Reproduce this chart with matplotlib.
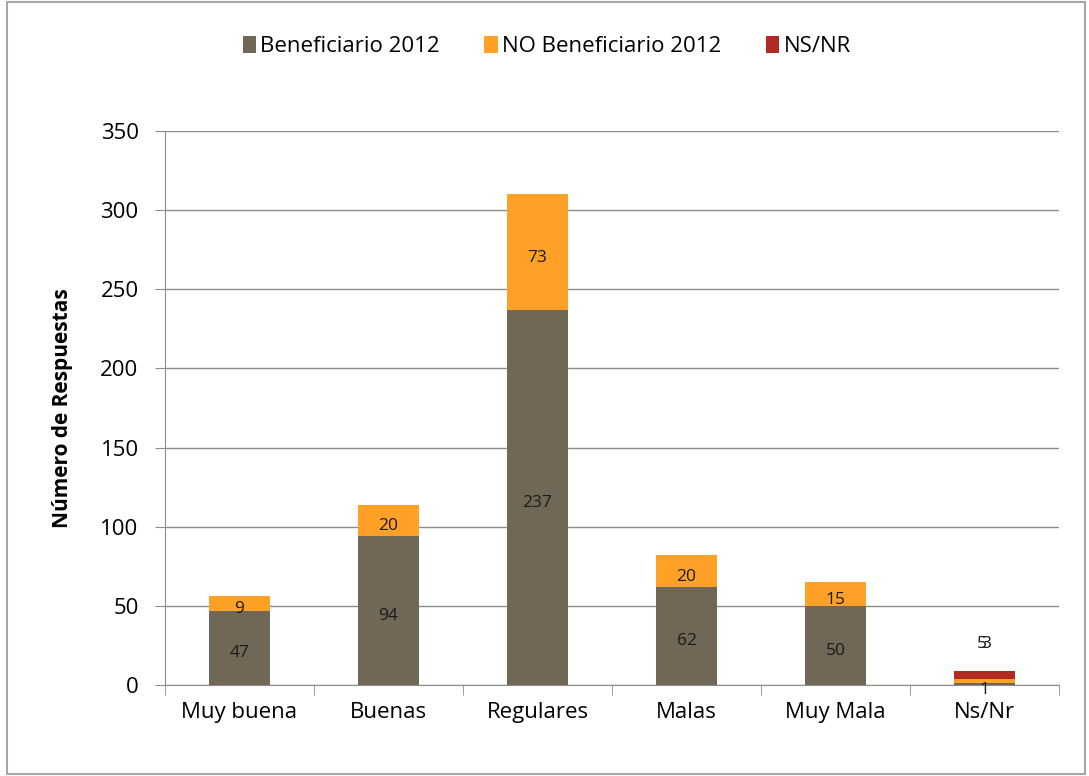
import numpy as np
import matplotlib.pyplot as plt
from matplotlib.patches import Rectangle

plt.rcParams['font.family'] = ['Open Sans', 'DejaVu Sans']

categories = ['Muy buena', 'Buenas', 'Regulares', 'Malas', 'Muy Mala', 'Ns/Nr']
beneficiario = [47, 94, 237, 62, 50, 1]
no_beneficiario = [9, 20, 73, 20, 15, 3]
ns_nr = [0, 0, 0, 0, 0, 5]
series_names = ['Beneficiario 2012', 'NO Beneficiario 2012', 'NS/NR']
colors = ['#716757', '#FFA126', '#B12B22']

fig = plt.figure(figsize=(10.89, 7.76), dpi=100)
ax = fig.add_axes([0.1515, 0.1173, 0.821, 0.714])

# thin frame around the whole chart, like the excel chart area
fig.patches.append(Rectangle((0.006, 0.003), 0.99, 0.995, transform=fig.transFigure,
                             fill=False, edgecolor='#A6A6A6', linewidth=1.5))

x = np.arange(len(categories))
width = 0.41
bottom = np.zeros(len(categories))
for name, vals, col in zip(series_names, [beneficiario, no_beneficiario, ns_nr], colors):
    vals = np.array(vals, dtype=float)
    ax.bar(x, vals, width, bottom=bottom, color=col, label=name, zorder=3)
    for i, v in enumerate(vals):
        if v == 0:
            continue
        if v >= 8 or name == 'Beneficiario 2012':
            ypos = bottom[i] + v / 2
            xpos = x[i]
        else:
            # small segments: label pushed above the bar (overlapping like excel)
            ypos = 29.5
            xpos = x[i] + (-0.02 if name == 'NS/NR' else 0.01)
        ax.annotate(f'{int(v)}', (xpos, ypos), xytext=(0, -4), textcoords='offset points',
                    ha='center', va='center', fontsize=12.5, color='#1a1a1a', zorder=4)
    bottom += vals

ax.set_xlim(-0.5, len(categories) - 0.5)
ax.set_ylim(0, 350)
ax.set_yticks(range(0, 351, 50))
ax.set_xticks(x)
ax.set_xticklabels(categories, fontsize=16)
ax.set_xticks(np.arange(-0.5, len(categories), 1), minor=True)
ax.tick_params(axis='x', which='major', length=0, pad=12)
ax.tick_params(axis='x', which='minor', length=7, color='#8c8c8c', direction='out')
ax.tick_params(axis='y', labelsize=16, length=7, color='#8c8c8c', pad=12)
ax.yaxis.grid(True, color='#8c8c8c', linewidth=1, zorder=0)
for side in ['top', 'right']:
    ax.spines[side].set_visible(False)
for side in ['left', 'bottom']:
    ax.spines[side].set_color('#8c8c8c')

ax.set_ylabel('Número de Respuestas', fontsize=15, fontweight='bold', labelpad=20)

ax.legend(loc='upper center', bbox_to_anchor=(0.427, 1.208), ncol=3, frameon=False,
          fontsize=16, handlelength=0.6, handleheight=0.8, handletextpad=0.2,
          columnspacing=2.0)

fig.savefig('out.png', dpi=100)
